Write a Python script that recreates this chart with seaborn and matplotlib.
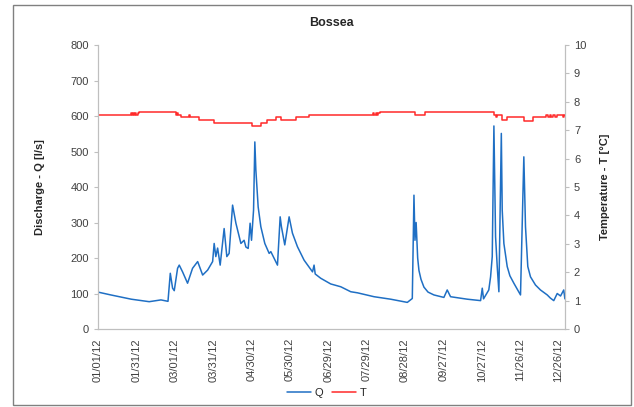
import matplotlib
matplotlib.use("Agg")
import matplotlib.pyplot as plt
import matplotlib.dates as mdates
from matplotlib.patches import Rectangle
import pandas as pd
import seaborn as sns

# discharge Q [l/s] (day offset from 01/01/12)
q_day = [0, 10, 26, 40, 49.2, 54.7, 56.5, 58.3, 59.6, 62.2, 63.5, 66.1, 70, 73.9,
         77.9, 81.8, 85.7, 89.6, 90.8, 92.1, 93.5, 95.5, 98.6, 100.7, 102.5, 105.2,
         107.8, 111.7, 114.2, 115.6, 117.4, 118.9, 120, 121.6, 122.6, 123.4, 125.2,
         127.3, 130.4, 133.8, 135.1, 140.3, 142.4, 143.4, 146, 149.4, 152, 155.9,
         161.1, 167.7, 168.9, 169.8, 174.1, 181.9, 189.8, 197.6, 202.8, 215.8, 228.8,
         241.8, 245.7, 247, 247.8, 248.7, 249.9, 250.9, 252.5, 254.8, 258, 262.6,
         270.4, 273, 275.6, 288.7, 299.1, 300.4, 301.4, 305.5, 306.9, 308.2, 309.5,
         310.8, 312.1, 313.4, 315.3, 316, 317.3, 319.9, 322, 325.1, 330.3, 332.9,
         334.2, 336, 338.1, 342, 345.9, 351.2, 353.7, 356.3, 359, 361.6, 364.1, 365]
q_val = [104, 96, 84, 77, 82, 78, 157, 115, 108, 171, 180, 161, 129, 171,
         190, 152, 166, 190, 241, 204, 228, 180, 283, 204, 213, 349,
         298, 241, 250, 231, 227, 298, 250, 335, 527, 448, 344,
         288, 241, 213, 218, 180, 316, 288, 237, 316, 270, 232,
         194, 161, 180, 155, 143, 127, 119, 105, 102, 91, 84,
         75, 86, 377, 250, 300, 200, 165, 140, 118, 104, 96,
         89, 110, 91, 84, 80, 115, 85, 110, 147, 204, 572,
         260, 176, 105, 551, 335, 241, 176, 150, 129, 96, 485,
         288, 176, 147, 124, 110, 96, 87, 80, 100, 93, 110, 85]

# temperature T [°C], stepwise
t_day = [0, 25.8, 26.5, 27.3, 28, 29, 30, 31, 32.3, 60.9, 62, 62.8, 64.8, 71, 71.6,
         79, 90.3, 120, 127.3, 132.5, 139, 143, 154.6, 165, 215, 216, 217, 218, 219,
         220.5, 248, 256, 309.5, 311, 311.8, 313, 316, 320, 333, 340, 350, 351.5, 353,
         354.5, 356, 357.5, 359, 363.5, 364, 365]
t_val = [7.55, 7.62, 7.55, 7.62, 7.55, 7.62, 7.55, 7.62, 7.64, 7.55, 7.62, 7.55, 7.46, 7.55, 7.46,
         7.36, 7.26, 7.16, 7.26, 7.36, 7.46, 7.36, 7.46, 7.55, 7.62, 7.55, 7.62, 7.55, 7.62,
         7.64, 7.55, 7.64, 7.55, 7.46, 7.55, 7.55, 7.36, 7.46, 7.34, 7.46, 7.55, 7.46, 7.55,
         7.46, 7.55, 7.46, 7.55, 7.46, 7.55, 7.55]

start = pd.Timestamp("2012-01-01")
q_df = pd.DataFrame({"date": start + pd.to_timedelta(q_day, unit="D"), "Q": q_val})
t_df = pd.DataFrame({"date": start + pd.to_timedelta(t_day, unit="D"), "T": t_val})

sns.set_style("white")
plt.rcParams["font.family"] = ["Liberation Sans", "DejaVu Sans"]

grey = "#bfbfbf"
fig = plt.figure(figsize=(6.34, 4.07), dpi=100)
ax = fig.add_axes([0.1546, 0.1916, 0.7364, 0.6978])
ax2 = ax.twinx()

sns.lineplot(data=q_df, x="date", y="Q", ax=ax, color="#1f6fc4", linewidth=1.1,
             estimator=None, label="Q", legend=False)
sns.lineplot(data=t_df, x="date", y="T", ax=ax2, color="#ff2a2a", linewidth=1.1,
             estimator=None, drawstyle="steps-post", label="T", legend=False)

ax.set_ylim(0, 800)
ax.set_yticks(range(0, 801, 100))
ax2.set_ylim(0, 10)
ax2.set_yticks(range(0, 11))
ax.set_xlim(start, start + pd.Timedelta(days=365))
ax.set_xticks([start + pd.Timedelta(days=30 * k) for k in range(13)])
ax.xaxis.set_major_formatter(mdates.DateFormatter("%m/%d/%y"))

for a in (ax, ax2):
    a.spines["top"].set_visible(False)
    for s in ("left", "right", "bottom"):
        a.spines[s].set_color(grey)
    a.tick_params(colors="#404040", labelsize=8, length=3, width=0.8)
    a.tick_params(axis="both", color=grey)
ax.tick_params(axis="x", rotation=90)

ax.set_xlabel("")
ax.set_ylabel("Discharge - Q [l/s]", fontsize=8, fontweight="bold", labelpad=18)
ax2.set_ylabel("Temperature - T [°C]", fontsize=8, fontweight="bold", labelpad=10)
ax.set_title("Bossea", fontsize=9, fontweight="bold", pad=14)

handles = ax.get_lines()[:1] + ax2.get_lines()[:1]
fig.legend(handles, ["Q", "T"], loc="center", bbox_to_anchor=(0.515, 0.035), ncol=2,
           frameon=False, fontsize=8, handlelength=2.2, columnspacing=0.8, handletextpad=0.3)

fig.patches.append(Rectangle((13 / 634, 2 / 407), 618 / 634, 400 / 407, transform=fig.transFigure,
                             fill=False, edgecolor="#808080", linewidth=1))

fig.savefig("out.png", dpi=100)
